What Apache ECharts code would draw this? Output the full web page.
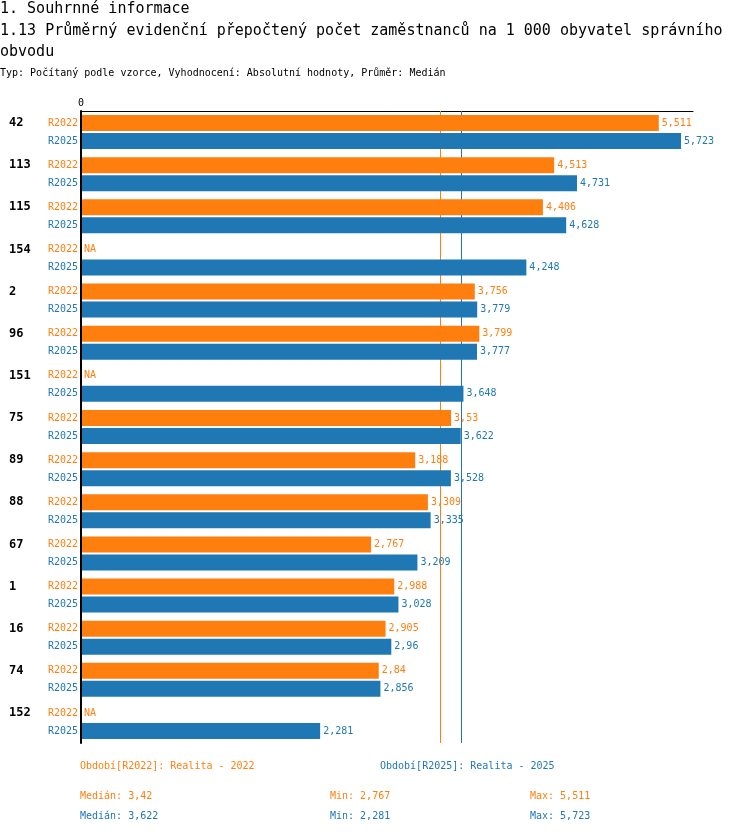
<!DOCTYPE html>
<html lang="cs">
<head>
    <meta charset="UTF-8">
    <title>1.13 Průměrný evidenční přepočtený počet zaměstnanců</title>
    <script type="text/javascript" src="https://cdn.jsdelivr.net/npm/echarts@6/dist/echarts.min.js"></script>
    <style>
        html, body { margin: 0; padding: 0; background: #fff; }
    </style>
</head>
<body>
    <div id="charts" style="width:750px;height:834px;"></div>
</body>
<script type="text/javascript">
    // data
    var categories = ['42', '113', '115', '154', '2', '96', '151', '75', '89', '88', '67', '1', '16', '74', '152'];
    var r2022 = [5.511, 4.513, 4.406, null, 3.756, 3.799, null, 3.53, 3.188, 3.309, 2.767, 2.988, 2.905, 2.84, null];
    var r2025 = [5.723, 4.731, 4.628, 4.248, 3.779, 3.777, 3.648, 3.622, 3.528, 3.335, 3.209, 3.028, 2.96, 2.856, 2.281];
    var seriesNames = ['R2022', 'R2025'];
    var legendTexts = ['Období[R2022]: Realita - 2022', 'Období[R2025]: Realita - 2025'];

    var ORANGE = '#ff7f0e';
    var BLUE = '#1f77b4';
    var FONT = '"DejaVu Sans Mono", "Liberation Mono", monospace';

    function fmt(v) {
        v = Math.round(v * 1000 + 1e-6) / 1000;
        return String(v).replace('.', ',');
    }
    function stats(arr) {
        var a = arr.filter(function (v) { return v != null; }).sort(function (x, y) { return x - y; });
        var n = a.length;
        var med = n % 2 ? a[(n - 1) / 2] : (a[n / 2 - 1] + a[n / 2]) / 2;
        return { med: med, min: a[0], max: a[n - 1] };
    }
    var s22 = stats(r2022), s25 = stats(r2025);

    var myChart = echarts.init(document.getElementById('charts'));

    function barSeries(name, values, color) {
        return {
            name: name,
            type: 'bar',
            z: 5,
            barWidth: 16,
            barGap: '12.5%',
            data: values.map(function (v) { return v == null ? 0 : v; }),
            itemStyle: { color: color },
            label: {
                show: true,
                position: 'right',
                distance: 3,
                color: color,
                fontFamily: FONT,
                fontSize: 10,
                formatter: function (p) {
                    return values[p.dataIndex] == null ? 'NA' : fmt(values[p.dataIndex]);
                }
            }
        };
    }

    // vertical median line drawn behind the bars
    function medianSeries(color, median) {
        return {
            type: 'custom',
            z: 1,
            silent: true,
            data: [[median]],
            encode: { x: 0 },
            renderItem: function (params, api) {
                var cs = params.coordSys;
                var x = Math.round(api.coord([api.value(0), 0])[0]) + 0.5;
                return {
                    type: 'line',
                    shape: { x1: x, y1: cs.y, x2: x, y2: cs.y + cs.height },
                    style: { stroke: color, lineWidth: 1 }
                };
            }
        };
    }

    function txt(x, y, text, color, size) {
        return {
            type: 'text',
            left: x,
            top: y,
            style: { text: text, fill: color, font: size + 'px ' + FONT }
        };
    }

    var option = {
        animation: false,
        grid: { left: 81, top: 111, width: 612, height: 632 },
        xAxis: {
            type: 'value',
            position: 'top',
            min: 0,
            max: 5.723 * 612 / 600,
            interval: 10,
            splitLine: { show: false },
            axisTick: { show: false },
            axisLine: { show: true, lineStyle: { color: '#000', width: 1 } },
            axisLabel: {
                color: '#000',
                fontFamily: FONT,
                fontSize: 10,
                margin: 3,
                showMaxLabel: false,
                formatter: function (v) { return v === 0 ? '0' : ''; }
            }
        },
        yAxis: [{
            type: 'category',
            inverse: true,
            data: categories,
            z: 10,
            axisTick: { show: false },
            axisLine: { show: true, lineStyle: { color: '#000', width: 2 } },
            axisLabel: {
                align: 'left',
                margin: 72,
                formatter: function (v) { return '{g|' + v + '}\n{e| }'; },
                rich: {
                    g: { color: '#000', fontWeight: 'bold', fontFamily: FONT, fontSize: 12, lineHeight: 18, align: 'left' },
                    e: { fontSize: 10, lineHeight: 18 }
                }
            }
        }, {
            type: 'category',
            inverse: true,
            data: categories,
            position: 'left',
            axisTick: { show: false },
            axisLine: { show: false },
            axisLabel: {
                margin: 3,
                formatter: function () {
                    return '{a|' + seriesNames[0] + '}\n{b|' + seriesNames[1] + '}';
                },
                rich: {
                    a: { color: ORANGE, fontFamily: FONT, fontSize: 10, lineHeight: 18 },
                    b: { color: BLUE, fontFamily: FONT, fontSize: 10, lineHeight: 18 }
                }
            }
        }],
        series: [
            medianSeries(ORANGE, s22.med),
            medianSeries(BLUE, s25.med),
            barSeries(seriesNames[0], r2022, ORANGE),
            barSeries(seriesNames[1], r2025, BLUE)
        ],
        graphic: [
            txt(0, 2, '1. Souhrnné informace', '#000', 15),
            txt(0, 24, '1.13 Průměrný evidenční přepočtený počet zaměstnanců na 1 000 obyvatel správního', '#000', 15),
            txt(0, 45, 'obvodu', '#000', 15),
            txt(0, 68, 'Typ: Počítaný podle vzorce, Vyhodnocení: Absolutní hodnoty, Průměr: Medián', '#000', 10),
            txt(80, 761, legendTexts[0], ORANGE, 10),
            txt(380, 761, legendTexts[1], BLUE, 10),
            txt(80, 791, 'Medián: ' + fmt(s22.med), ORANGE, 10),
            txt(330, 791, 'Min: ' + fmt(s22.min), ORANGE, 10),
            txt(530, 791, 'Max: ' + fmt(s22.max), ORANGE, 10),
            txt(80, 811, 'Medián: ' + fmt(s25.med), BLUE, 10),
            txt(330, 811, 'Min: ' + fmt(s25.min), BLUE, 10),
            txt(530, 811, 'Max: ' + fmt(s25.max), BLUE, 10)
        ]
    };

    myChart.setOption(option);
</script>
</html>
